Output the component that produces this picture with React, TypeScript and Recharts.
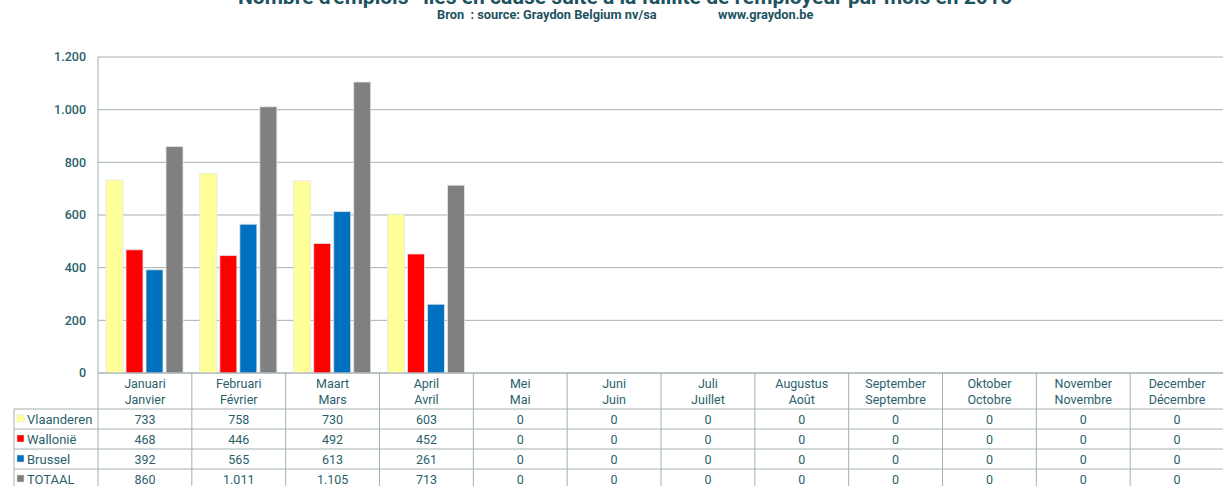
import { BarChart, Bar, XAxis, YAxis, CartesianGrid } from "recharts";

const monthsNl = ["Januari", "Februari", "Maart", "April", "Mei", "Juni", "Juli", "Augustus", "September", "Oktober", "November", "December"];
const monthsFr = ["Janvier", "Février", "Mars", "Avril", "Mai", "Juin", "Juillet", "Août", "Septembre", "Octobre", "Novembre", "Décembre"];
const vlaanderen = [733, 758, 730, 603, 0, 0, 0, 0, 0, 0, 0, 0];
const wallonie = [468, 446, 492, 452, 0, 0, 0, 0, 0, 0, 0, 0];
const brussel = [392, 565, 613, 261, 0, 0, 0, 0, 0, 0, 0, 0];
const totaal = [860, 1011, 1105, 713, 0, 0, 0, 0, 0, 0, 0, 0];
const yTicks = [0, 200, 400, 600, 800, 1000, 1200];

const series = [
  { key: "vl", name: "Vlaanderen", color: "#FFFF99", values: vlaanderen },
  { key: "wa", name: "Wallonië", color: "#FF0000", values: wallonie },
  { key: "br", name: "Brussel", color: "#0070C0", values: brussel },
  { key: "tot", name: "TOTAAL", color: "#808080", values: totaal },
];

const data = monthsNl.map((m, i) => ({
  month: m,
  vl: vlaanderen[i],
  wa: wallonie[i],
  br: brussel[i],
  tot: totaal[i],
}));

const W = 1226;
const H = 486;
const LEFT = 98;
const RIGHT = 1224;
const TOP = 57;
const BOTTOM = 373;
const BAND = (RIGHT - LEFT) / 12;
const ROW_TOP = 409;
const ROW_H = 20;
const TABLE_LEFT = 14;
const TEXT = "#2a5f6b";
const LINE = "#a3b0b4";
const FONT = "Roboto, sans-serif";

function fmt(n: number): string {
  return String(n).replace(/\B(?=(\d{3})+(?!\d))/g, ".");
}

function TableTick(props: any) {
  const { x, payload } = props;
  const i = payload.index;
  const l = x - BAND / 2;
  const r = x + BAND / 2;
  return (
    <g>
      <line x1={r} y1={BOTTOM} x2={r} y2={H} stroke={LINE} />
      <text x={x} y={388} textAnchor="middle" fontSize={12.5} fill={TEXT} fontFamily={FONT}>
        {monthsNl[i]}
      </text>
      <text x={x} y={404} textAnchor="middle" fontSize={12.5} fill={TEXT} fontFamily={FONT}>
        {monthsFr[i]}
      </text>
      {series.map((s, k) => (
        <g key={s.key}>
          <line x1={l} y1={ROW_TOP + k * ROW_H} x2={r} y2={ROW_TOP + k * ROW_H} stroke={LINE} />
          <text
            x={x}
            y={ROW_TOP + k * ROW_H + 15}
            textAnchor="middle"
            fontSize={12.5}
            fill={TEXT}
            fontFamily={FONT}
          >
            {fmt(s.values[i])}
          </text>
        </g>
      ))}
      {i === 0 && (
        <g>
          <line x1={LEFT} y1={BOTTOM} x2={LEFT} y2={H} stroke={LINE} />
          <line x1={TABLE_LEFT} y1={ROW_TOP} x2={TABLE_LEFT} y2={H} stroke={LINE} />
          {series.map((s, k) => (
            <g key={s.key}>
              <line x1={TABLE_LEFT} y1={ROW_TOP + k * ROW_H} x2={LEFT} y2={ROW_TOP + k * ROW_H} stroke={LINE} />
              <rect x={17} y={ROW_TOP + k * ROW_H + 6} width={7} height={7} fill={s.color} stroke="#e0e0e0" strokeWidth={0.5} />
              <text x={27} y={ROW_TOP + k * ROW_H + 15} fontSize={13} fill={TEXT} fontFamily={FONT}>
                {s.name}
              </text>
            </g>
          ))}
        </g>
      )}
    </g>
  );
}

export default function App() {
  return (
    <div style={{ position: "absolute", left: 0, top: 0, width: 1223, height: H, overflow: "hidden", background: "#fff" }}>
      <div
        style={{
          position: "absolute",
          left: 0,
          width: 1250,
          top: -15,
          textAlign: "center",
          fontFamily: FONT,
          fontWeight: 700,
          fontSize: 21,
          color: "#1d5360",
          whiteSpace: "nowrap",
        }}
      >
        Nombre d'emplois* liés en cause suite à la faillite de l'employeur par mois en 2016
      </div>
      <div
        style={{
          position: "absolute",
          left: 437,
          top: 7,
          fontFamily: FONT,
          fontWeight: 700,
          fontSize: 12.8,
          color: "#1d5360",
          whiteSpace: "pre",
        }}
      >
        Bron  : source: Graydon Belgium nv/sa
      </div>
      <div
        style={{
          position: "absolute",
          left: 718,
          top: 7,
          fontFamily: FONT,
          fontWeight: 700,
          fontSize: 12.8,
          color: "#1d5360",
        }}
      >
        www.graydon.be
      </div>
      <BarChart
        width={W}
        height={H}
        data={data}
        margin={{ top: TOP, right: W - RIGHT, bottom: 0, left: 0 }}
        barCategoryGap={8}
        barGap={3}
        style={{ position: "absolute", left: 0, top: 0 }}
      >
        <CartesianGrid vertical={false} stroke={LINE} strokeWidth={1} />
        <YAxis
          width={LEFT}
          domain={[0, 1200]}
          ticks={yTicks}
          tickFormatter={fmt}
          tickLine={false}
          tickSize={6}
          tickMargin={6}
          axisLine={{ stroke: LINE }}
          tick={{ fontSize: 12.5, fill: TEXT, fontFamily: FONT, fontWeight: 500 }}
        />
        <XAxis
          dataKey="month"
          height={H - BOTTOM}
          interval={0}
          tickLine={false}
          axisLine={{ stroke: LINE }}
          tick={<TableTick />}
        />
        {series.map((s) => (
          <Bar
            key={s.key}
            dataKey={s.key}
            name={s.name}
            fill={s.color}
            stroke="#e6e6e6"
            strokeWidth={0.8}
            isAnimationActive={false}
          />
        ))}
      </BarChart>
    </div>
  );
}
